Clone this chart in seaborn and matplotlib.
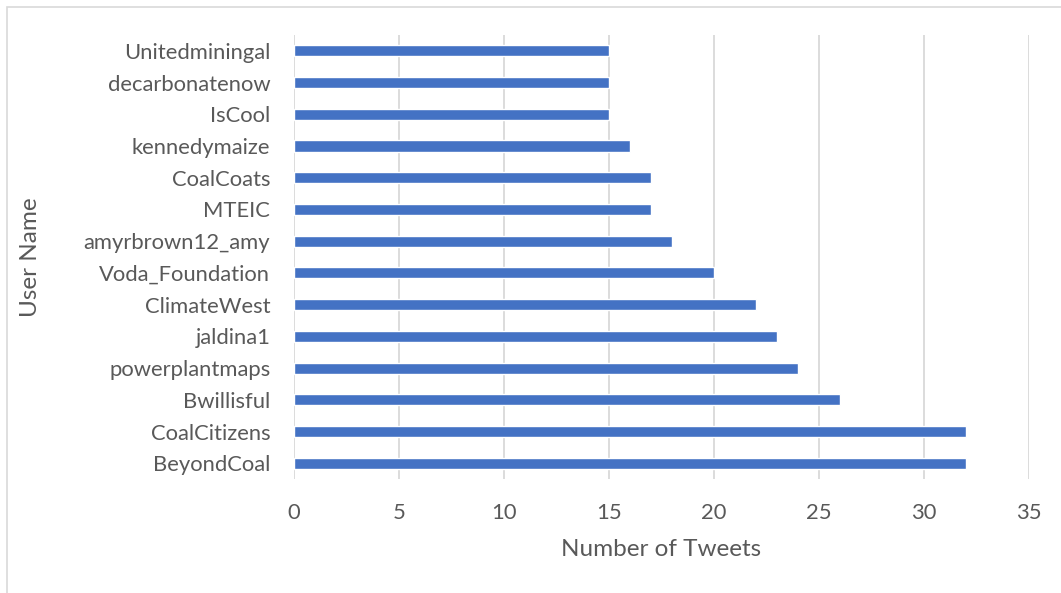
import matplotlib
matplotlib.use('Agg')
import matplotlib.pyplot as plt
import seaborn as sns
import pandas as pd
from matplotlib.patches import Rectangle

# Datos (de arriba hacia abajo)
users = ['Unitedminingal', 'decarbonatenow', 'IsCool', 'kennedymaize', 'CoalCoats',
         'MTEIC', 'amyrbrown12_amy', 'Voda_Foundation', 'ClimateWest', 'jaldina1',
         'powerplantmaps', 'Bwillisful', 'CoalCitizens', 'BeyondCoal']
tweets = [15, 15, 15, 16, 17, 17, 18, 20, 22, 23, 24, 26, 32, 32]
x_ticks = [0, 5, 10, 15, 20, 25, 30, 35]

df = pd.DataFrame({'user': users, 'tweets': tweets})

sns.set_style('white')
plt.rcParams['font.family'] = ['Lato', 'DejaVu Sans']

fig = plt.figure(figsize=(10.61, 5.93), dpi=100)
ax = fig.add_axes([0.277, 0.192, 0.693, 0.749])

sns.barplot(data=df, x='tweets', y='user', order=users, color='#4472C4',
            saturation=1, width=0.35, ax=ax)

ax.set_xlim(0, 35)
ax.set_xticks(x_ticks)
ax.grid(axis='x', color='#D9D9D9', linewidth=1.3)
ax.set_axisbelow(True)
for s in ax.spines.values():
    s.set_visible(False)

ax.tick_params(axis='both', length=0, labelsize=15.8, labelcolor='#595959')
ax.tick_params(axis='x', pad=17)
ax.tick_params(axis='y', pad=17)
ax.set_xlabel('Number of Tweets', fontsize=17.5, color='#595959', labelpad=12)
ax.set_ylabel('User Name', fontsize=17.5, color='#595959')
ax.yaxis.set_label_coords(-0.344, 0.5)

# Borde del gráfico
fig.patches.append(Rectangle((7 / 1061, -0.1), 1.2, 1.1 - 7 / 593,
                             transform=fig.transFigure, fill=False,
                             edgecolor='#D9D9D9', linewidth=1.2))

fig.savefig('out.png', dpi=100)
